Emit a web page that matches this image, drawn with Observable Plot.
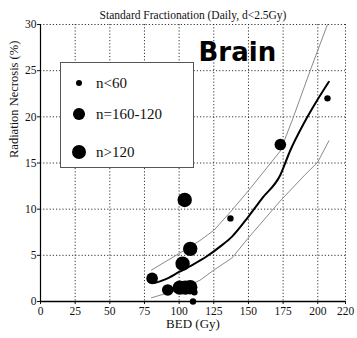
<!DOCTYPE html>
<html><head><meta charset="utf-8">
<script src="https://cdn.jsdelivr.net/npm/d3@7"></script>
<script src="https://cdn.jsdelivr.net/npm/@observablehq/plot@0.6"></script>
<style>
body{margin:0;background:#fff;}
#wrap{position:relative;width:357px;height:338px;overflow:hidden;}
#legend{position:absolute;left:60px;top:62px;width:132px;height:104px;border:1px solid #555;background:#fff;font-family:"Liberation Serif",serif;font-size:15px;color:#111;}
.row{position:absolute;left:0;height:20px;}
.dot{position:absolute;background:#000;border-radius:50%;}
.lab{position:absolute;left:35px;top:0;line-height:20px;white-space:nowrap;}
</style></head>
<body><div id="wrap"></div>
<script>
// Observed cohorts
const bed      = [80.5, 91.8, 100.5, 104.5, 108, 111, 110, 102.5, 108, 104, 137, 173, 207];
const necrosis = [2.5, 1.25, 1.5, 1.5, 1.55, 1.0, 0, 4.1, 5.7, 11.0, 9.0, 17.0, 22.0];
const cohort   = ["mid","mid","large","large","large","small","small","large","large","large","small","mid","small"];

// Model curve and confidence band
const curveBed   = [82, 90, 100, 110, 120, 130, 138, 150, 160, 173, 180, 190, 200, 208];
const curveMean  = [2.0, 2.4, 3.2, 4.0, 4.9, 6.0, 7.0, 9.2, 11.2, 13.7, 16.3, 19.3, 21.9, 23.8];
const bandBed    = [80, 100, 115, 125, 137, 150, 173, 182, 195, 207];
const bandUpper  = [3.4, 5.2, 6.6, 7.7, 9.7, 12.0, 16.3, 19.8, 25.2, 30.0];
const lowerBed   = [80, 100, 115, 125, 138, 150, 173, 190, 200, 208];
const bandLower  = [0.4, 1.3, 2.3, 3.4, 4.7, 6.9, 10.9, 13.6, 15.1, 17.4];

const xTicks = [0, 25, 50, 75, 100, 125, 150, 175, 200, 220];
const yTicks = [0, 5, 10, 15, 20, 25, 30];
const legendLabels = ["n<60", "n=160-120", "n>120"];
const legendKeys = ["small", "mid", "large"];
const radius = {small: 3.2, mid: 5.8, large: 7.2};

const points = bed.map((b, i) => ({bed: b, nec: necrosis[i], r: radius[cohort[i]]}));
const mean = curveBed.map((b, i) => ({bed: b, v: curveMean[i]}));
const upper = bandBed.map((b, i) => ({bed: b, v: bandUpper[i]}));
const lower = lowerBed.map((b, i) => ({bed: b, v: bandLower[i]}));

const serif = "Liberation Serif, Times New Roman, serif";
const plot = Plot.plot({
  width: 357, height: 338,
  marginLeft: 40, marginRight: 12, marginTop: 24, marginBottom: 37,
  style: {fontFamily: serif, fontSize: "11px", color: "#111", background: "#fff", overflow: "visible"},
  x: {domain: [0, 220]},
  y: {domain: [0, 30]},
  r: {type: "identity"},
  marks: [
    Plot.gridX(xTicks.filter(d => d > 0), {stroke: "#222", strokeOpacity: 0.9, strokeDasharray: "1.2,2"}),
    Plot.gridY(yTicks.filter(d => d > 0), {stroke: "#222", strokeOpacity: 0.9, strokeDasharray: "1.2,2"}),
    Plot.axisX({ticks: xTicks, tickSize: 3, tickPadding: 2, label: null, fontSize: 11.5}),
    Plot.axisY({ticks: yTicks, tickSize: 3, tickPadding: 1, label: null, fontSize: 11.5}),
    Plot.ruleX([0], {stroke: "#000", strokeWidth: 1.2}),
    Plot.ruleY([0], {stroke: "#000", strokeWidth: 1.5}),
    Plot.line(upper, {x: "bed", y: "v", stroke: "#8a8a8a", strokeWidth: 1}),
    Plot.line(lower, {x: "bed", y: "v", stroke: "#8a8a8a", strokeWidth: 1}),
    Plot.line(mean, {x: "bed", y: "v", stroke: "#000", strokeWidth: 2, curve: "monotone-x"}),
    Plot.dot(points, {x: "bed", y: "nec", r: "r", fill: "#000", stroke: "none"}),
    Plot.text(["Brain"], {x: 114, y: 26.9, text: d => d, textAnchor: "start", lineAnchor: "middle", fontFamily: "DejaVu Sans", fontWeight: "bold", fontSize: 26, fill: "#000"}),
    Plot.text(["Standard Fractionation (Daily, d<2.5Gy)"], {frameAnchor: "top", dy: -14, text: d => d, fontSize: 11.5, fill: "#111"}),
    Plot.text(["BED (Gy)"], {frameAnchor: "bottom", dy: 26, text: d => d, fontSize: 13, fill: "#111"}),
    Plot.text(["Radiation Necrosis (%)"], {frameAnchor: "left", dx: -27, dy: -5, rotate: -90, text: d => d, fontSize: 12.5, fill: "#111"})
  ]
});
const wrap = document.getElementById("wrap");
wrap.appendChild(plot);

const legend = document.createElement("div");
legend.id = "legend";
const rowsY = [10, 41, 79];
legendLabels.forEach((lab, i) => {
  const row = document.createElement("div");
  row.className = "row";
  row.style.top = rowsY[i] + "px";
  row.style.width = "132px";
  const r = radius[legendKeys[i]];
  const dot = document.createElement("div");
  dot.className = "dot";
  dot.style.width = dot.style.height = (2 * r) + "px";
  dot.style.left = (18 - r) + "px";
  dot.style.top = (10 - r) + "px";
  const t = document.createElement("div");
  t.className = "lab";
  t.textContent = lab;
  row.appendChild(dot); row.appendChild(t);
  legend.appendChild(row);
});
wrap.appendChild(legend);
</script></body></html>
